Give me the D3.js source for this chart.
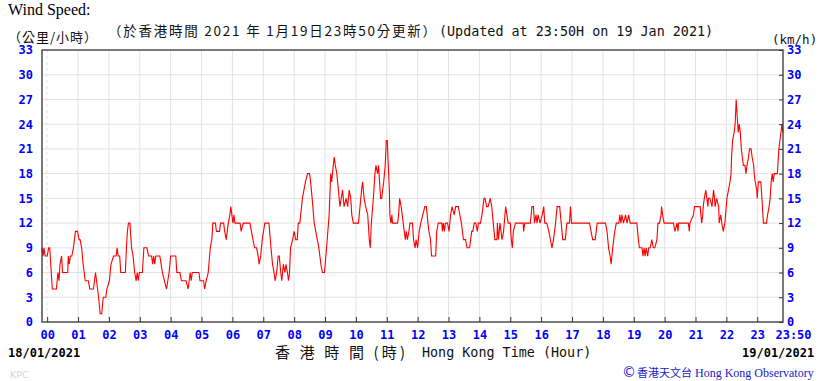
<!DOCTYPE html>
<html><head><meta charset="utf-8">
<script src="https://cdn.jsdelivr.net/npm/d3@7"></script>
<style>
html,body{margin:0;padding:0;background:#fff;}
svg{display:block;}
</style></head>
<body>
<svg id="chart" width="820" height="381"></svg>
<script>
// ---- data (minutes relative to 00:00 on 19/01/2021, wind speed km/h) ----
const obsMinutes = [-10,-8,-6,-4,0,3,5,10,18,21,23,25,28,30,40,41,43,45,48,51,55,59,62,64,67,70,74,80,83,90,92,94,96,100,103,106,109,114,116,121,124,129,134,136,138,141,143,152,154,156,158,161,164,167,170,173,175,177,179,185,188,194,197,203,205,207,209,211,219,224,228,232,237,240,250,252,258,261,270,274,276,278,280,282,295,297,304,306,309,313,317,320,322,327,329,335,337,343,345,348,352,355,357,359,361,363,365,375,377,381,394,397,403,407,410,412,415,418,423,431,435,438,441,443,446,449,451,454,456,459,462,464,467,469,471,473,477,480,483,486,488,491,496,499,502,506,510,512,515,519,522,525,528,532,535,539,543,548,551,553,556,558,560,563,566,569,574,577,581,584,587,590,592,595,605,608,611,613,616,619,623,626,628,630,634,637,639,642,644,646,648,650,654,657,659,661,663,665,666,668,670,671,681,683,685,688,690,694,696,698,700,703,705,710,712,715,717,720,723,726,730,734,737,740,742,745,747,755,757,760,767,768,770,772,774,778,781,784,787,791,794,799,802,805,809,813,816,818,821,825,827,830,833,836,838,842,845,849,851,854,857,861,864,867,870,874,875,877,880,884,887,891,896,900,902,904,906,910,925,926,928,939,942,945,947,950,952,954,958,962,965,967,971,975,978,981,984,988,991,996,999,1002,1007,1010,1015,1017,1019,1054,1057,1060,1065,1069,1085,1088,1091,1094,1096,1099,1103,1106,1111,1113,1115,1117,1120,1124,1127,1130,1133,1146,1149,1151,1156,1158,1160,1162,1164,1167,1169,1172,1175,1178,1181,1185,1187,1190,1193,1194,1196,1199,1217,1220,1224,1226,1227,1246,1248,1249,1256,1258,1269,1272,1274,1275,1277,1280,1282,1284,1285,1288,1292,1295,1297,1298,1301,1305,1306,1309,1311,1314,1317,1321,1324,1327,1329,1330,1332,1335,1337,1339,1341,1343,1345,1347,1349,1351,1353,1356,1358,1360,1363,1365,1368,1370,1373,1374,1376,1379,1380,1382,1387,1389,1391,1392,1398,1400,1403,1405,1407,1409,1411,1413,1419,1422,1424,1426,1428,1430];
const windSpeed = [9,8,9,8,8,9,9,4,4,6,5,7,8,6,6,8,7,8,8,9,11,11,10,10,9,7,5,5,4,4,5,6,5,3,1,1,3,3,4,5,7,8,8,9,8,8,6,6,9,11,12,12,9,8,6,5,6,5,6,6,9,9,8,8,7,8,7,8,8,6,5,4,6,8,8,6,6,5,5,4,5,6,5,6,6,5,5,4,5,6,9,10,12,12,11,11,12,12,11,10,12,13,14,13,12,13,12,12,11,12,12,11,9,9,8,7,8,10,12,12,9,7,6,5,6,8,8,6,5,7,6,7,6,5,6,9,10,11,10,10,12,12,15,16,17,18,18,17,15,12,11,10,9,7,6,6,9,13,18,17,19,20,19,18,16,14,16,14,15,14,16,15,13,12,12,14,16,17,15,14,13,10,9,12,15,18,19,18,19,17,15,15,17,19,22,22,19,16,13,12,13,12,12,13,15,14,13,11,10,11,10,11,12,12,10,9,10,9,11,12,13,14,14,12,11,10,8,8,11,12,12,11,12,11,12,12,11,13,14,13,14,14,13,12,10,10,9,9,9,11,11,12,12,11,12,12,13,15,15,14,14,15,14,12,10,10,12,10,12,10,11,14,12,12,10,9,11,12,12,11,12,12,14,14,12,13,12,13,12,13,14,12,12,11,10,9,10,12,14,14,12,10,10,12,12,14,12,12,11,10,10,12,12,11,9,8,7,9,11,12,12,13,12,13,12,13,12,13,12,12,10,9,9,8,9,8,9,8,9,9,10,9,9,10,12,12,13,14,13,12,12,11,12,11,12,12,11,12,13,14,14,12,13,14,15,16,15,14,15,15,14,16,15,14,15,14,12,13,12,11,12,15,16,17,18,20,22,23,24,27,25,23,24,23,21,20,19,19,18,19,20,21,21,20,19,18,17,16,15,17,17,15,13,12,12,13,14,15,17,18,17,18,18,21,22,23,24,23];
const hourTicks = [0,60,120,180,240,300,360,420,480,540,600,660,720,780,840,900,960,1020,1080,1140,1200,1260,1320,1380,1430];
const hourLabels = ["00","01","02","03","04","05","06","07","08","09","10","11","12","13","14","15","16","17","18","19","20","21","22","23","23:50"];
const speedTicks = [0,3,6,9,12,15,18,21,24,27,30,33];

const svg = d3.select("#chart");
const L = 42, R = 783, T = 50, B = 322;
const x = d3.scaleLinear().domain([-10, 1430]).range([L, R]);
const y = d3.scaleLinear().domain([0, 33]).range([B, T]);

const monoB = "'DejaVu Sans Mono', monospace";
const blue = "#0000ff";

// gridlines
const g = svg.append("g");
g.selectAll("line.h").data(speedTicks.filter(d => d > 0 && d < 33)).enter().append("line")
  .attr("x1", L).attr("x2", R).attr("y1", d => y(d)).attr("y2", d => y(d))
  .attr("stroke", "#e2e2e2").attr("stroke-width", 1);
g.selectAll("line.v").data(hourTicks.slice(0, 24)).enter().append("line")
  .attr("x1", d => x(d)).attr("x2", d => x(d)).attr("y1", T).attr("y2", B)
  .attr("stroke", "#e2e2e2").attr("stroke-width", 1)
  .attr("stroke-dasharray", d => d === 0 ? "3,3" : null);

// line
const line = d3.line().x((d, i) => x(obsMinutes[i])).y(d => y(d));
svg.append("path").datum(windSpeed).attr("d", line)
  .attr("fill", "none").attr("stroke", "#ff0000").attr("stroke-width", 1.1)
  .attr("stroke-linejoin", "miter");

// axes
const ax = svg.append("g").attr("transform", `translate(0,${B})`)
  .call(d3.axisBottom(x).tickValues(hourTicks).tickFormat((d, i) => hourLabels[i])
    .tickSizeInner(-5).tickSizeOuter(0).tickPadding(8));
ax.select(".domain").remove();
ax.selectAll(".tick line").attr("stroke", "#333");
ax.selectAll(".tick").filter(d => d === 1430).select("line").remove();
ax.selectAll(".tick").filter(d => d === 1430).select("text").attr("dx", 10);
ax.selectAll("text").attr("fill", blue).attr("font-family", monoB)
  .attr("font-weight", "bold").attr("font-size", 12);

const ayL = svg.append("g").attr("transform", `translate(${L},0)`)
  .call(d3.axisLeft(y).tickValues(speedTicks).tickSize(0).tickPadding(9));
ayL.select(".domain").remove();
ayL.selectAll("text").attr("fill", blue).attr("font-family", monoB)
  .attr("font-weight", "bold").attr("font-size", 12);

const ayR = svg.append("g").attr("transform", `translate(${R},0)`)
  .call(d3.axisRight(y).tickValues(speedTicks).tickSizeInner(-4).tickSizeOuter(0).tickPadding(4));
ayR.select(".domain").remove();
ayR.selectAll(".tick line").attr("stroke", "#333");
ayR.selectAll("text").attr("fill", blue).attr("font-family", monoB)
  .attr("font-weight", "bold").attr("font-size", 12);

// frame
svg.append("rect").attr("x", L).attr("y", T).attr("width", R - L).attr("height", B - T)
  .attr("fill", "none").attr("stroke", "#333").attr("stroke-width", 1.3);

// texts
const cjk = "'Noto Sans CJK TC', sans-serif";
svg.append("text").attr("x", 8).attr("y", 15).text("Wind Speed:")
  .attr("font-family", "'Liberation Serif', serif").attr("font-size", 16).attr("fill", "#000");
svg.append("text").attr("x", 8).attr("y", 42).text("（公里/小時）")
  .attr("font-family", cjk).attr("font-size", 13).attr("fill", "#111")
  .attr("textLength", 89).attr("lengthAdjust", "spacing");
svg.append("text").attr("x", 108).attr("y", 36).text("（於香港時間 2021 年 1月19日23時50分更新）")
  .attr("font-family", cjk).attr("font-size", 13.5).attr("fill", "#111")
  .attr("textLength", 328).attr("lengthAdjust", "spacing");
svg.append("text").attr("x", 439).attr("y", 36).text("(Updated at 23:50H on 19 Jan 2021)")
  .attr("font-family", monoB).attr("font-size", 13.4).attr("fill", "#111");
svg.append("text").attr("x", 772).attr("y", 44).text("(km/h)")
  .attr("font-family", monoB).attr("font-size", 12.5).attr("fill", "#111");

svg.append("text").attr("x", 8).attr("y", 357).text("18/01/2021")
  .attr("font-family", monoB).attr("font-weight", "bold").attr("font-size", 12).attr("fill", "#000");
svg.append("text").attr("x", 742).attr("y", 357).text("19/01/2021")
  .attr("font-family", monoB).attr("font-weight", "bold").attr("font-size", 12).attr("fill", "#000");

svg.append("text").attr("x", 275).attr("y", 358).text("香 港 時 間 (時)")
  .attr("font-family", cjk).attr("font-size", 15).attr("fill", "#111")
  .attr("textLength", 130).attr("lengthAdjust", "spacing");
svg.append("text").attr("x", 422).attr("y", 357).text("Hong Kong Time (Hour)")
  .attr("font-family", monoB).attr("font-size", 13.4).attr("fill", "#111");

svg.append("text").attr("x", 10).attr("y", 378).text("KPC")
  .attr("font-family", "'DejaVu Sans', sans-serif").attr("font-size", 9.5).attr("fill", "#d4d4d4");

const obs = svg.append("text").attr("x", 622).attr("y", 377).attr("fill", "#1a1acc");
obs.append("tspan").text("©").attr("font-family", "'DejaVu Sans', sans-serif").attr("font-size", 14);
obs.append("tspan").text("香港天文台").attr("font-family", cjk).attr("font-size", 11).attr("dx", 1);
obs.append("tspan").text(" Hong Kong Observatory").attr("font-family", "'Liberation Serif', serif").attr("font-size", 12);
</script>
</body></html>
